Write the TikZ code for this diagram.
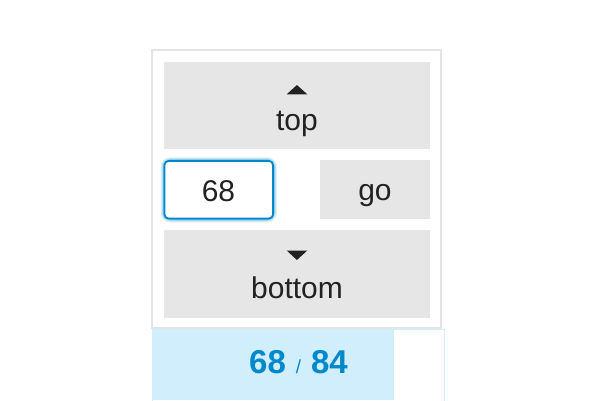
\documentclass[tikz,border=0pt]{standalone}
\usepackage{fontspec}
\setmainfont{Liberation Sans}
\usepackage{xcolor}
\definecolor{btngray}{HTML}{E6E6E6}
\definecolor{panelgray}{HTML}{E4E4E4}
\definecolor{textdark}{HTML}{222222}
\definecolor{accent}{HTML}{0088CC}
\definecolor{barblue}{HTML}{D0EEFC}
\tikzstyle{btn}=[rectangle,fill=btngray,inner sep=0pt]
\tikzstyle{lbl}=[anchor=base,inner sep=0pt,text=textdark,font=\fontsize{30}{34}\selectfont]
\tikzstyle{arrowtri}=[fill=textdark]

\begin{document}
\begin{tikzpicture}[x=1pt,y=-1pt]
        \useasboundingbox (0,0) rectangle (600,400);
        % outer panel
        \node at (296.5,189) [rectangle,draw=panelgray,line width=2.5pt,minimum width=289pt,minimum height=278pt] (panel) {};
        % counter bar
        \node at (298.5,365.5) [rectangle,draw=barblue,line width=1.5pt,fill=white,minimum width=292pt,minimum height=72pt,inner sep=0pt] (bar) {};
        \fill [barblue] (bar.north west) rectangle (394,400);
        % buttons
        \node at (297,105.5) [btn,minimum width=266pt,minimum height=87pt] (topbtn) {};
        \node at (375,189.5) [btn,minimum width=110pt,minimum height=59pt] (gobtn) {};
        \node at (297,274) [btn,minimum width=266pt,minimum height=88pt] (bottombtn) {};
        % input with glow
        \foreach \g/\o in {8/0.1,6/0.15,4/0.22,2.5/0.35}
          \draw [accent,opacity=\o,line width=\g pt,rounded corners=6pt] (164.5,161) rectangle (273,218.5);
        \node at (218.75,189.75) [rectangle,draw=accent,fill=white,line width=1.8pt,rounded corners=4pt,minimum width=108.5pt,minimum height=57.5pt] (pageinput) {};
        % arrows
        \fill [arrowtri] (286.7,94.3) -- (296.9,85) -- (307.3,94.3) -- cycle;
        \fill [arrowtri] (286.7,250.5) -- (296.9,260) -- (307.3,250.5) -- cycle;
        % labels
        \node at (297,130) [lbl] (toptext) {top};
        \node at (218.5,201.7) [lbl] (inputtext) {68};
        \node at (375,200) [lbl] (gotext) {go};
        \node at (297,298.3) [lbl] (bottomtext) {bottom};
        \node at (298.5,373.3) [lbl,text=accent,font=\fontsize{33}{36}\selectfont\bfseries] (counter)
          {68\hspace{10pt}{\fontsize{19}{21}\selectfont\mdseries /}\hspace{10pt}84};
      \end{tikzpicture}
\end{document}
